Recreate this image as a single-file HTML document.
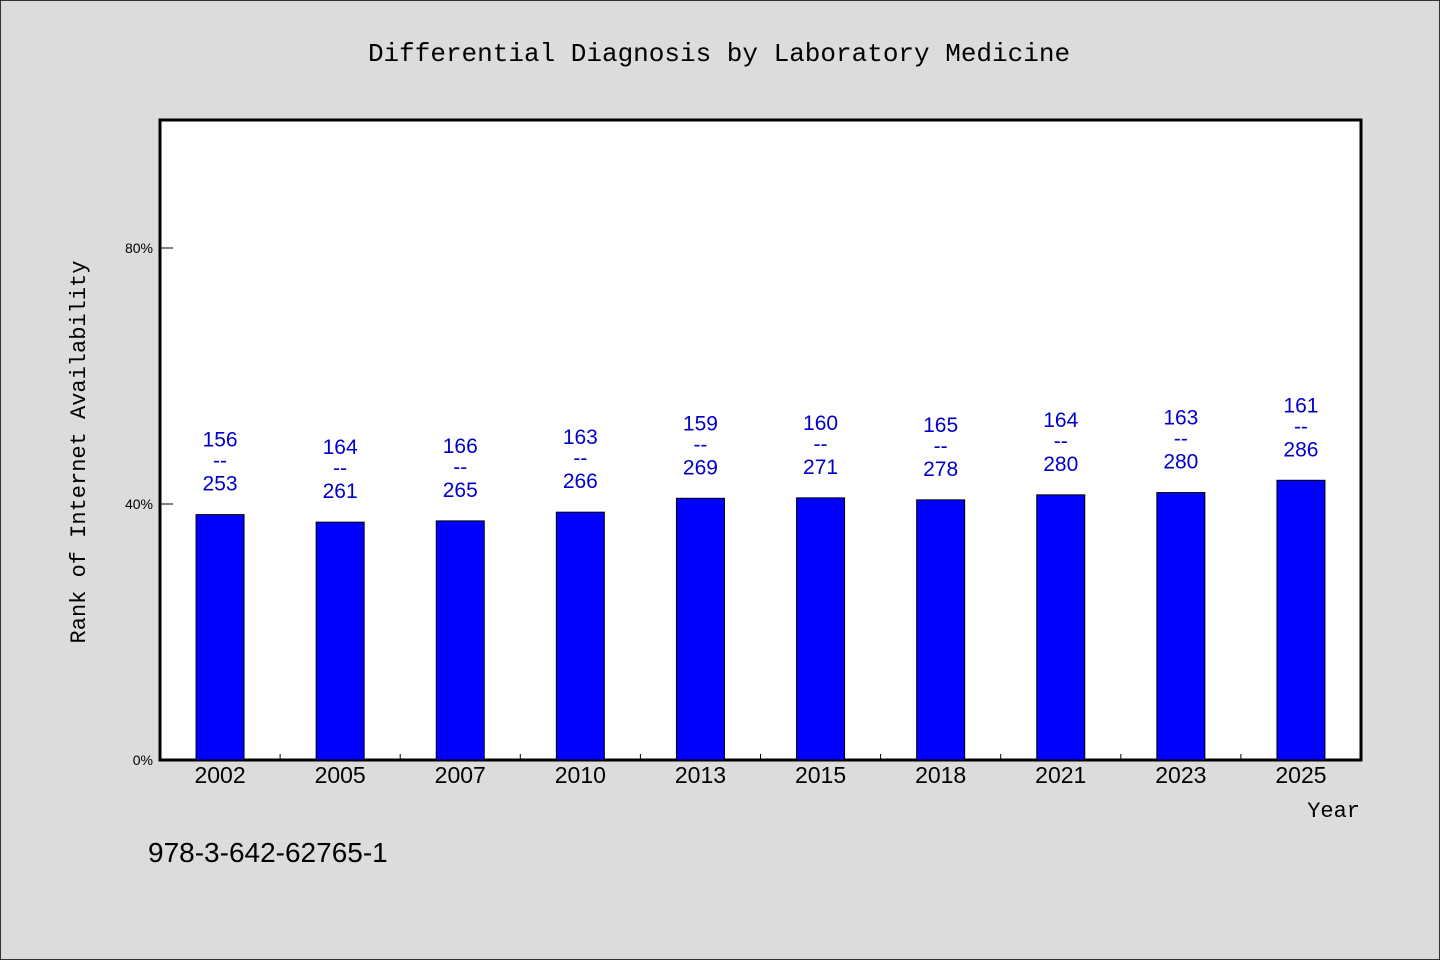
<!DOCTYPE html>
<html><head><meta charset="utf-8"><style>
html,body{margin:0;padding:0;background:#dcdcdc;}
svg{display:block;}
</style></head><body>
<svg id="chart" width="1440" height="960" xmlns="http://www.w3.org/2000/svg">
<rect x="0.5" y="0.5" width="1439" height="959" fill="#dcdcdc" stroke="#333" stroke-width="1"/>
<text x="719" y="61" text-anchor="middle" font-family="'Liberation Mono', monospace" font-size="26" fill="#000">Differential Diagnosis by Laboratory Medicine</text>
<rect x="160" y="120" width="1201" height="640" fill="#fff" stroke="#000" stroke-width="3"/>
<g id="grid"></g>
<g id="bars"></g>
<text transform="translate(85,452) rotate(-90)" text-anchor="middle" font-family="'Liberation Mono', monospace" font-size="22" fill="#000">Rank of Internet Availability</text>
<text x="1360" y="817" text-anchor="end" font-family="'Liberation Mono', monospace" font-size="22" fill="#000">Year</text>
<text x="148" y="862" font-family="'WenQuanYi Zen Hei', 'Liberation Sans', sans-serif" font-size="28" fill="#000">978-3-642-62765-1</text>
</svg>
<script>
const years = ["2002","2005","2007","2010","2013","2015","2018","2021","2023","2025"];
const ranks = [156,164,166,163,159,160,165,164,163,161];
const totals = [253,261,265,266,269,271,278,280,280,286];
const yTicks = [0,40,80];
const yTickLabels = ["0%","40%","80%"];

const NS="http://www.w3.org/2000/svg";
const x0=160,x1=1361,yBase=760,pxPerPct=6.4;
const band=(x1-x0)/years.length;
const xCenter=i=>x0+band*(i+0.5);
const yScale=v=>yBase-v*pxPerPct;
const font="'WenQuanYi Zen Hei','Liberation Sans',sans-serif";
function mk(tag,attrs,parent){const e=document.createElementNS(NS,tag);for(const k in attrs)e.setAttribute(k,attrs[k]);parent.appendChild(e);return e;}
const grid=document.getElementById('grid'),bars=document.getElementById('bars');
yTicks.forEach((t,i)=>{
  const y=yScale(t);
  const l=mk('line',{x1:161,x2:173,y1:y,y2:y,stroke:'#000','stroke-width':1},grid);
  
  
  const tx=mk('text',{x:153,y:y+5,'text-anchor':'end','font-family':font,'font-size':14,fill:'#000'},grid);
  tx.textContent=yTickLabels[i];
  
  
});
years.forEach((yr,i)=>{
  if(i>0){
    const bx=x0+band*i;
    const tk=mk('line',{x1:bx,x2:bx,y1:754,y2:760,stroke:'#000','stroke-width':1},grid);
    
    
  }
  const cx=xCenter(i);
  const pct=(1-ranks[i]/totals[i])*100;
  const top=yScale(pct);
  const r=mk('rect',{x:cx-24,y:top,width:48,height:yBase-top,fill:'#0000ff',stroke:'#000','stroke-width':1},bars);
  
  
  const lab=[[ranks[i],top-76],["--",top-55],[totals[i],top-32]];
  lab.forEach(([s,y])=>{
    const t=mk('text',{x:cx,y:y+8,'text-anchor':'middle','font-family':font,'font-size':21,fill:'#0000cc'},bars);
    t.textContent=s;
    
    
  });
  const xl=mk('text',{x:cx,y:783,'text-anchor':'middle','font-family':font,'font-size':23,fill:'#000'},bars);
  xl.textContent=yr;
  
  
});
</script>
</body></html>
